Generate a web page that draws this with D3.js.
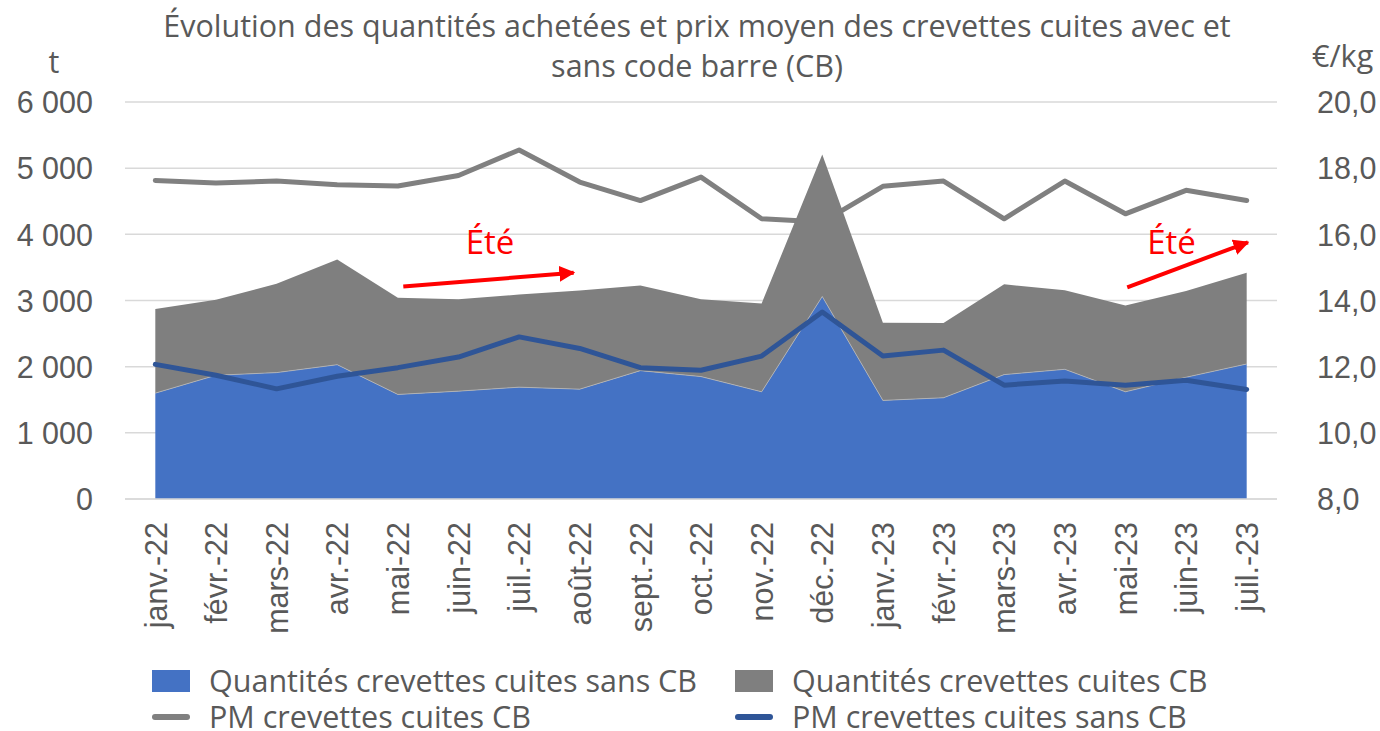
<!DOCTYPE html>
<html lang="fr">
<head>
<meta charset="utf-8">
<script src="https://cdn.jsdelivr.net/npm/d3@7"></script>
<style>
  html, body { margin: 0; padding: 0; background: #fff; }
  svg { display: block; font-family: "Open Sans", "Noto Sans", sans-serif; }
  .tick text { fill: #595959; }
</style>
</head>
<body>
<div id="chart"></div>
<script>
// Données
const mois = ["janv.-22", "févr.-22", "mars-22", "avr.-22", "mai-22", "juin-22", "juil.-22", "août-22",
  "sept.-22", "oct.-22", "nov.-22", "déc.-22", "janv.-23", "févr.-23", "mars-23", "avr.-23",
  "mai-23", "juin-23", "juil.-23"];

// quantités (t)
const qteSansCB = [1600, 1870, 1910, 2030, 1580, 1630, 1690, 1660, 1940, 1850, 1620, 3060, 1490, 1530, 1880, 1960, 1620, 1840, 2040];
const qteCB = [1270, 1140, 1345, 1590, 1460, 1390, 1400, 1490, 1285, 1170, 1335, 2145, 1175, 1130, 1365, 1195, 1305, 1305, 1380];

// prix moyens (€/kg)
const pmCB = [17.63, 17.55, 17.61, 17.50, 17.46, 17.78, 18.55, 17.58, 17.02, 17.73, 16.47, 16.37, 17.45, 17.61, 16.47, 17.61, 16.62, 17.33, 17.02];
const pmSansCB = [12.07, 11.74, 11.33, 11.71, 11.97, 12.29, 12.90, 12.55, 11.97, 11.89, 12.32, 13.65, 12.32, 12.50, 11.44, 11.57, 11.44, 11.59, 11.31];

const ticksGauche = [0, 1000, 2000, 3000, 4000, 5000, 6000];
const ticksDroite = [8, 10, 12, 14, 16, 18, 20];

// annotations "Été" (index de mois, tonnes)
const flechesEte = [
  { x1: 4.09, y1: 3210, x2: 6.9, y2: 3420 },
  { x1: 16.03, y1: 3200, x2: 18.02, y2: 3880 }
];
const textesEte = [
  { x: 5.52, y: 3710 },
  { x: 16.76, y: 3710 }
];

// Configuration
const width = 1380, height = 731;
const plot = { left: 125, right: 1277, top: 102, bottom: 499 };
const txtColor = "#595959";
const fontSize = 30.5;

const svg = d3.select("#chart").append("svg")
  .attr("width", width)
  .attr("height", height);

svg.append("defs").append("marker")
  .attr("id", "fleche")
  .attr("viewBox", "0 0 10 10")
  .attr("refX", 9).attr("refY", 5)
  .attr("markerWidth", 4).attr("markerHeight", 4)
  .attr("orient", "auto")
  .append("path")
  .attr("d", "M0,0 L10,5 L0,10 z")
  .attr("fill", "#ff0000");

// Echelles
const x = d3.scalePoint().domain(mois).range([plot.left, plot.right]).padding(0.5);
const xi = i => x(mois[0]) + i * x.step();
const yG = d3.scaleLinear().domain([0, 6000]).range([plot.bottom, plot.top]);
const yD = d3.scaleLinear().domain([8, 20]).range([plot.bottom, plot.top]);

// Titre
svg.append("text")
  .attr("x", 697).attr("y", 37)
  .attr("text-anchor", "middle")
  .attr("fill", txtColor)
  .attr("font-size", fontSize)
  .selectAll("tspan")
  .data(["Évolution des quantités achetées et prix moyen des crevettes cuites avec et", "sans code barre (CB)"])
  .join("tspan")
  .attr("x", 697)
  .attr("dy", (d, i) => i === 0 ? 0 : 40)
  .text(d => d);

// Unités
svg.append("text").attr("x", 54).attr("y", 73).attr("text-anchor", "middle")
  .attr("fill", txtColor).attr("font-size", fontSize).text("t");
svg.append("text").attr("x", 1312).attr("y", 67).attr("text-anchor", "start")
  .attr("fill", txtColor).attr("font-size", fontSize).text("€/kg");

// Grille
svg.append("g")
  .selectAll("line")
  .data(ticksGauche)
  .join("line")
  .attr("x1", plot.left).attr("x2", plot.right)
  .attr("y1", d => yG(d)).attr("y2", d => yG(d))
  .attr("stroke", "#d9d9d9")
  .attr("stroke-width", 1.5);

// Axe gauche
const fmtG = v => d3.format(",")(v).replace(/,/g, " ");
const axeG = svg.append("g")
  .attr("transform", `translate(${plot.left},0)`)
  .call(d3.axisLeft(yG).tickValues(ticksGauche).tickFormat(fmtG).tickSize(0).tickPadding(32));
axeG.select(".domain").remove();
axeG.selectAll("text").attr("font-size", fontSize).attr("font-family", "inherit").attr("dy", "0.35em");

// Axe droit
const axeD = svg.append("g")
  .attr("transform", `translate(${plot.right},0)`)
  .call(d3.axisRight(yD).tickValues(ticksDroite).tickFormat(d => d3.format(".1f")(d).replace(".", ",")).tickSize(0).tickPadding(40));
axeD.select(".domain").remove();
axeD.selectAll("text").attr("font-size", fontSize).attr("font-family", "inherit").attr("dy", "0.35em");

// Ligne PM CB (sous les aires)
const ligneD = d3.line().x((d, i) => x(mois[i])).y(d => yD(d));
svg.append("path")
  .datum(pmCB)
  .attr("d", ligneD)
  .attr("fill", "none")
  .attr("stroke", "#808080")
  .attr("stroke-width", 5)
  .attr("stroke-linejoin", "round")
  .attr("stroke-linecap", "round");

// Aires empilées
const table = mois.map((m, i) => ({ mois: m, sansCB: qteSansCB[i], CB: qteCB[i] }));
const series = d3.stack().keys(["sansCB", "CB"])(table);
const couleurs = { sansCB: "#4472C4", CB: "#7F7F7F" };
const aire = d3.area()
  .x(d => x(d.data.mois))
  .y0(d => yG(d[0]))
  .y1(d => yG(d[1]));

svg.append("g")
  .selectAll("path")
  .data(series)
  .join("path")
  .attr("d", aire)
  .attr("fill", d => couleurs[d.key]);

// liseré clair entre les deux aires
svg.append("path")
  .datum(series[0])
  .attr("d", d3.line().x(d => x(d.data.mois)).y(d => yG(d[1])))
  .attr("fill", "none")
  .attr("stroke", "#b8b8b8")
  .attr("stroke-width", 0.8);

// Ligne PM sans CB
svg.append("path")
  .datum(pmSansCB)
  .attr("d", ligneD)
  .attr("fill", "none")
  .attr("stroke", "#2F5597")
  .attr("stroke-width", 5)
  .attr("stroke-linejoin", "round")
  .attr("stroke-linecap", "round");

// Axe X
const axeX = svg.append("g")
  .attr("transform", `translate(0,${plot.bottom})`)
  .call(d3.axisBottom(x).tickSize(0).tickPadding(0));
axeX.select(".domain").attr("stroke", "#d9d9d9").attr("stroke-width", 1.5)
  .attr("d", `M${plot.left},0H${plot.right}`);
axeX.selectAll("text")
  .attr("font-size", fontSize)
  .attr("font-family", "inherit")
  .attr("text-anchor", "end")
  .attr("transform", "translate(0,23) rotate(-90)")
  .attr("x", 0).attr("y", 0)
  .attr("dy", "0.35em");

// Annotations Été
svg.append("g")
  .selectAll("line")
  .data(flechesEte)
  .join("line")
  .attr("x1", d => xi(d.x1)).attr("y1", d => yG(d.y1))
  .attr("x2", d => xi(d.x2)).attr("y2", d => yG(d.y2))
  .attr("stroke", "#ff0000")
  .attr("stroke-width", 4)
  .attr("marker-end", "url(#fleche)");

svg.append("g")
  .selectAll("text")
  .data(textesEte)
  .join("text")
  .attr("x", d => xi(d.x)).attr("y", d => yG(d.y))
  .attr("text-anchor", "middle")
  .attr("fill", "#ff0000")
  .attr("font-size", 33)
  .text("Été");

// Légende
const legende = [
  { label: "Quantités crevettes cuites sans CB", type: "rect", couleur: "#4472C4", col: 0, row: 0 },
  { label: "Quantités crevettes cuites CB", type: "rect", couleur: "#7F7F7F", col: 1, row: 0 },
  { label: "PM crevettes cuites CB", type: "line", couleur: "#808080", col: 0, row: 1 },
  { label: "PM crevettes cuites sans CB", type: "line", couleur: "#2F5597", col: 1, row: 1 }
];
const colX = [152, 735];
const rowY = [681, 717];

const items = svg.append("g")
  .selectAll("g")
  .data(legende)
  .join("g")
  .attr("transform", d => `translate(${colX[d.col]},${rowY[d.row]})`);

items.filter(d => d.type === "rect").append("rect")
  .attr("x", 0).attr("y", -11).attr("width", 38).attr("height", 22)
  .attr("fill", d => d.couleur);

items.filter(d => d.type === "line").append("line")
  .attr("x1", 3).attr("x2", 35).attr("y1", 0).attr("y2", 0)
  .attr("stroke", d => d.couleur)
  .attr("stroke-width", 6)
  .attr("stroke-linecap", "round");

items.append("text")
  .attr("x", 57).attr("y", 0).attr("dy", "0.35em")
  .attr("fill", txtColor)
  .attr("font-size", fontSize)
  .text(d => d.label);
</script>
</body>
</html>
